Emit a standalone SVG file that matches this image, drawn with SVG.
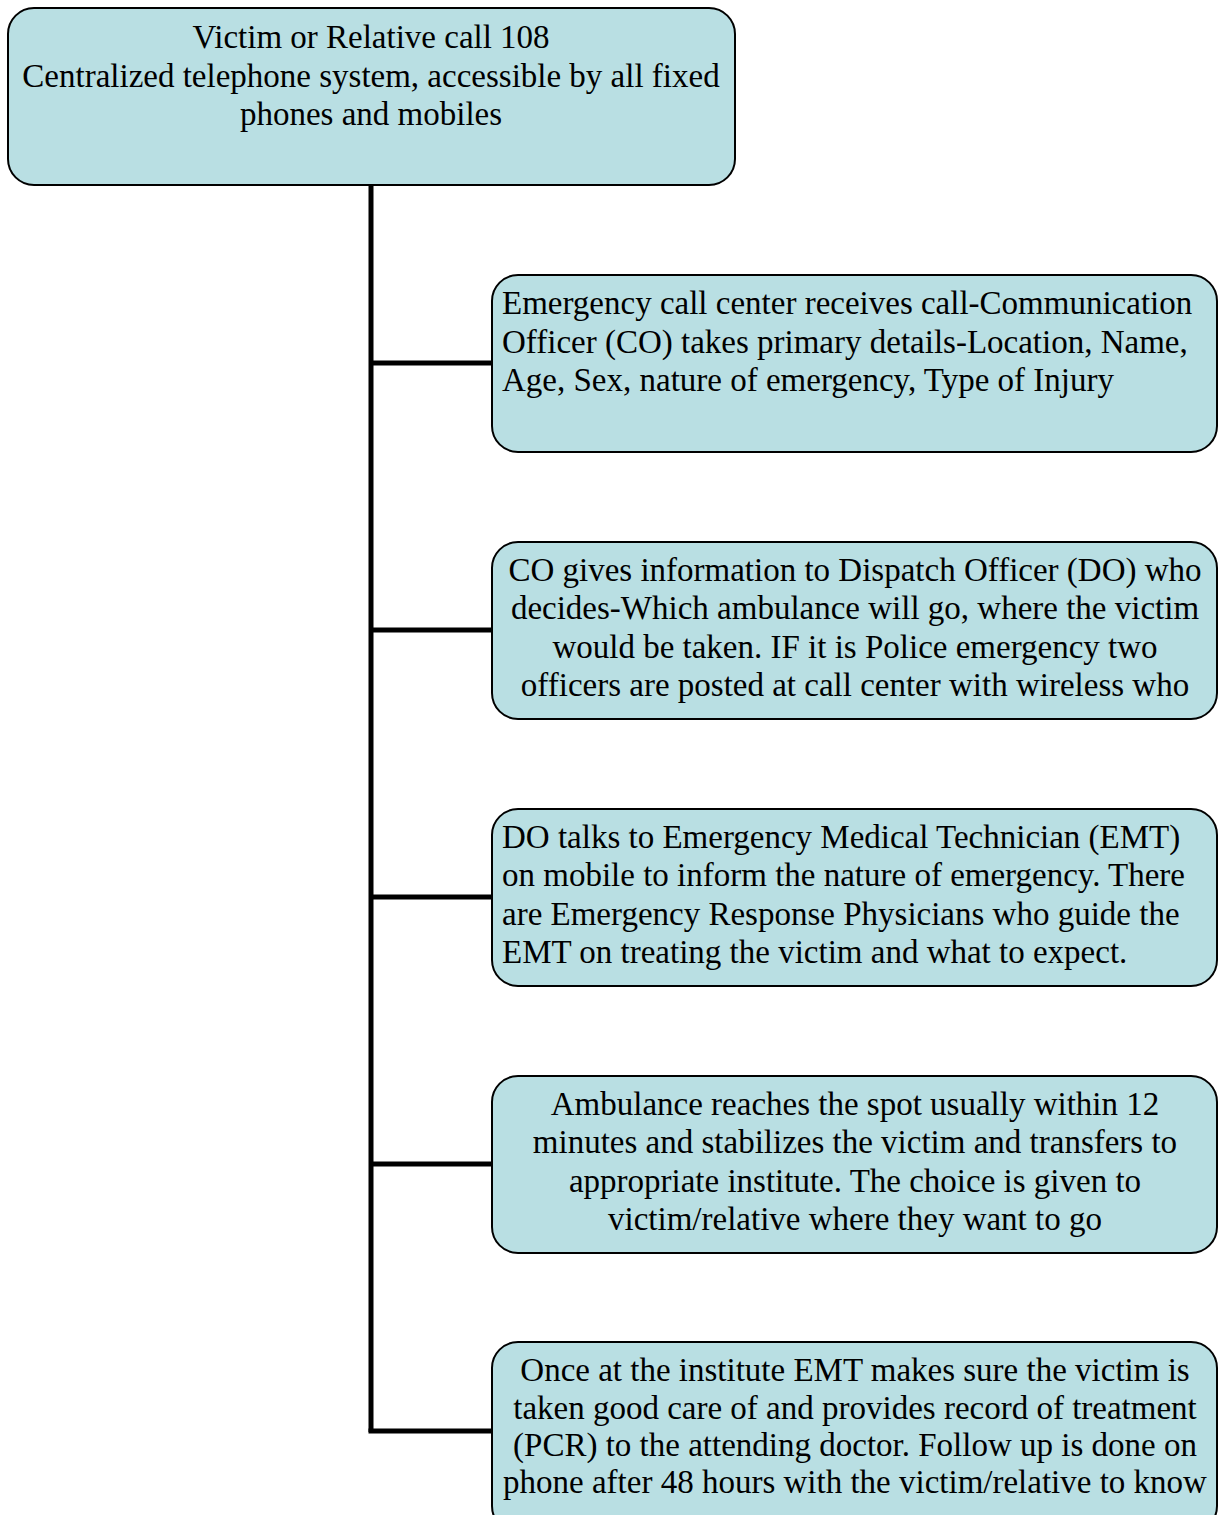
<svg xmlns="http://www.w3.org/2000/svg" width="1218" height="1515" viewBox="0 0 1218 1515">
  <style>
    .box { fill: #b9dfe3; stroke: #000; stroke-width: 2; }
    .t { font-family: "Liberation Serif", "Times New Roman", serif; font-size: 33px; fill: #000; }
    .c { text-anchor: middle; }
    .conn { stroke: #000; stroke-width: 5; fill: none; }
  </style>
  <rect width="1218" height="1515" fill="#fff"/>
  <g id="connectors">
    <path class="conn" d="M371 185 V1432"/>
    <path class="conn" d="M371 363 H493"/>
    <path class="conn" d="M371 630 H493"/>
    <path class="conn" d="M371 897 H493"/>
    <path class="conn" d="M371 1164 H493"/>
    <path class="conn" d="M368.5 1431 H493"/>
  </g>
  <g id="node0">
    <rect class="box" x="8" y="8" width="727" height="177" rx="26"/>
    <text class="t c" x="371" y="48">Victim or Relative call 108</text>
    <text class="t c" x="371" y="87">Centralized telephone system, accessible by all fixed</text>
    <text class="t c" x="371" y="125">phones and mobiles</text>
  </g>
  <g id="node1">
    <rect class="box" x="492" y="275" width="725" height="177" rx="26"/>
    <text class="t" x="502" y="314">Emergency call center receives call-Communication</text>
    <text class="t" x="502" y="353">Officer (CO) takes primary details-Location, Name,</text>
    <text class="t" x="502" y="391">Age, Sex, nature of emergency, Type of Injury</text>
  </g>
  <g id="node2">
    <rect class="box" x="492" y="542" width="725" height="177" rx="26"/>
    <text class="t c" x="855" y="581">CO gives information to Dispatch Officer (DO) who</text>
    <text class="t c" x="855" y="619">decides-Which ambulance will go, where the victim</text>
    <text class="t c" x="855" y="658">would be taken. IF it is Police emergency two</text>
    <text class="t c" x="855" y="696">officers are posted at call center with wireless who</text>
  </g>
  <g id="node3">
    <rect class="box" x="492" y="809" width="725" height="177" rx="26"/>
    <text class="t" x="502" y="848">DO talks to Emergency Medical Technician (EMT)</text>
    <text class="t" x="502" y="886">on mobile to inform the nature of emergency. There</text>
    <text class="t" x="502" y="925">are Emergency Response Physicians who guide the</text>
    <text class="t" x="502" y="963">EMT on treating the victim and what to expect.</text>
  </g>
  <g id="node4">
    <rect class="box" x="492" y="1076" width="725" height="177" rx="26"/>
    <text class="t c" x="855" y="1115">Ambulance reaches the spot usually within 12</text>
    <text class="t c" x="855" y="1153">minutes and stabilizes the victim and transfers to</text>
    <text class="t c" x="855" y="1192">appropriate institute. The choice is given to</text>
    <text class="t c" x="855" y="1230">victim/relative where they want to go</text>
  </g>
  <g id="node5">
    <rect class="box" x="492" y="1342" width="725" height="190" rx="26"/>
    <text class="t c" x="855" y="1381">Once at the institute EMT makes sure the victim is</text>
    <text class="t c" x="855" y="1419">taken good care of and provides record of treatment</text>
    <text class="t c" x="855" y="1456">(PCR) to the attending doctor. Follow up is done on</text>
    <text class="t c" x="855" y="1493">phone after 48 hours with the victim/relative to know</text>
  </g>
</svg>
